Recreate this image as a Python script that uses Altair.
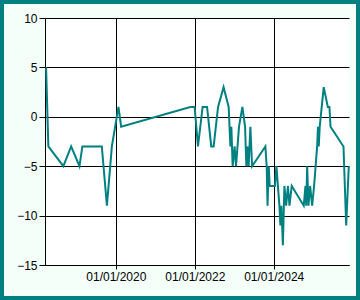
import altair as alt
import pandas as pd

dates = [
    "2018-03-26", "2018-04-16", "2018-09-02", "2018-11-13", "2019-01-29",
    "2019-02-25", "2019-08-24", "2019-10-10", "2019-11-25", "2020-01-25",
    "2020-02-19", "2021-11-20", "2021-12-30", "2022-01-30", "2022-03-14",
    "2022-04-24", "2022-06-02", "2022-06-24", "2022-08-04", "2022-09-24",
    "2022-11-10", "2022-11-26", "2022-12-05", "2022-12-17", "2023-01-04",
    "2023-01-17", "2023-02-14", "2023-03-17", "2023-04-11", "2023-04-23",
    "2023-05-02", "2023-05-14", "2023-05-30", "2023-06-15", "2023-10-16",
    "2023-10-28", "2023-11-05", "2023-11-16", "2023-11-25", "2024-01-12",
    "2024-01-26", "2024-02-23", "2024-03-03", "2024-03-12", "2024-03-26",
    "2024-04-09", "2024-04-25", "2024-05-12", "2024-05-26", "2024-06-16",
    "2024-10-05", "2024-10-21", "2024-10-28", "2024-11-06", "2024-11-18",
    "2024-12-03", "2024-12-22", "2025-01-09", "2025-02-06", "2025-02-14",
    "2025-02-21", "2025-03-02", "2025-04-08", "2025-05-16", "2025-05-31",
    "2025-06-10", "2025-10-08", "2025-11-02", "2025-11-26",
]
values = [
    5, -3, -5, -3, -5,
    -3, -3, -9, -3, 1,
    -1, 1, 1, -3, 1,
    1, -3, -3, 1, 3,
    1, -3, -1, -5, -3,
    -5, -1, 1, -1, -5,
    -3, -5, -1, -5, -3,
    -5, -9, -5, -7, -7,
    -5, -9, -11, -9, -13,
    -7, -9, -7, -9, -7,
    -9, -7, -9, -5, -9,
    -7, -9, -7, -3, -1,
    -3, -1, 3, 1, 1,
    -1, -3, -11, -5,
]
y_ticks = [-15, -10, -5, 0, 5, 10]
x_tick_years = [2020, 2022, 2024]

df = pd.DataFrame({"date": dates, "value": values})

W, H = 304, 247
PL, PT, PR, PB = 45, 18, 11, 35
TEAL = "#008080"

x_ticks = [alt.DateTime(year=y, month=1, date=1, utc=True) for y in x_tick_years]

line = alt.Chart(df).mark_line(color=TEAL, strokeWidth=2).encode(
    x=alt.X(
        "date:T",
        scale=alt.Scale(
            type="utc",
            domain=[
                alt.DateTime(year=2018, month=3, date=16, utc=True),
                alt.DateTime(year=2025, month=11, date=28, utc=True),
            ],
        ),
        axis=alt.Axis(values=x_ticks, format="%d/%m/%Y", title=None,
                      tickSize=4, labelPadding=2, labelFlush=False, labelOverlap=False),
    ),
    y=alt.Y(
        "value:Q",
        scale=alt.Scale(domain=[-15, 10], nice=False, zero=False),
        axis=alt.Axis(values=y_ticks, title=None, tickSize=6, labelPadding=2),
    ),
)

border = alt.Chart(alt.Data(values=[{}])).mark_rect(
    fillOpacity=0, stroke=TEAL, strokeWidth=4
).encode(
    x=alt.value(-PL + 2),
    x2=alt.value(W + PR - 2),
    y=alt.value(-PT + 2),
    y2=alt.value(H + PB - 2),
)

chart = alt.layer(line, border).properties(
    width=W,
    height=H,
    padding={"left": PL, "top": PT, "right": PR, "bottom": PB},
    autosize=alt.AutoSizeParams(type="none"),
    background="#F5FFFA",
).configure_view(
    fill="white", strokeWidth=0
).configure_axis(
    domainColor="black",
    gridColor="black",
    gridOpacity=1,
    gridWidth=1,
    tickColor="black",
    labelColor="black",
    labelFont="Liberation Sans",
    labelFontSize=12,
)

chart.save("out.html", embed_options={"renderer": "svg", "actions": False})
